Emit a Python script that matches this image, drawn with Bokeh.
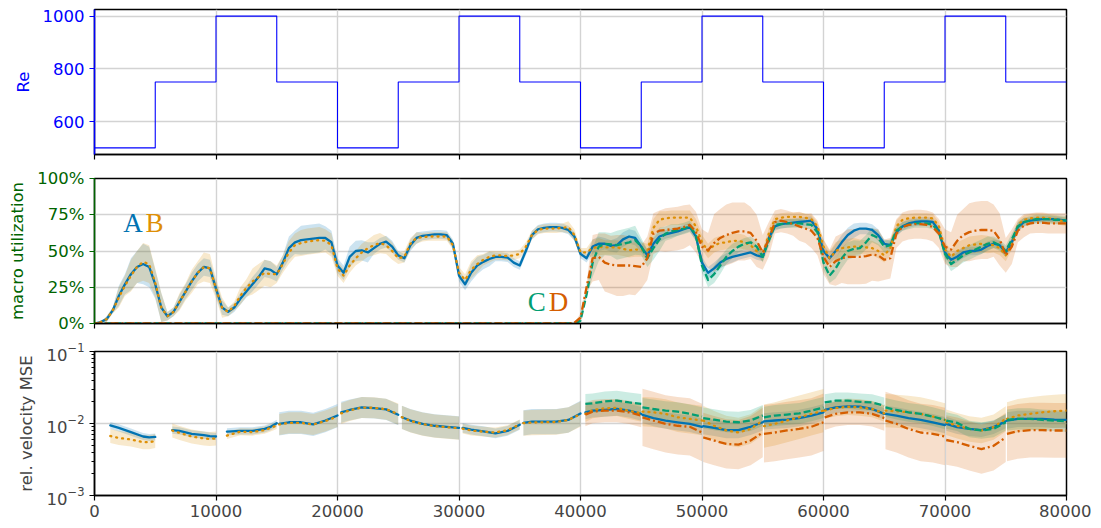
import numpy as np
from bokeh.plotting import figure
from bokeh.layouts import column
from bokeh.models import Range1d, FixedTicker, NumeralTickFormatter, CustomJSTickFormatter
from bokeh.core.properties import value
from bokeh.embed import file_html
from bokeh.resources import INLINE

# ---------------- data ----------------
X_TICKS = [0, 10000, 20000, 30000, 40000, 50000, 60000, 70000, 80000]

RE_EDGES = [0, 5000, 10000, 15000, 20000, 25000, 30000, 35000, 40000,
            45000, 50000, 55000, 60000, 65000, 70000, 75000, 80000]
RE_VALUES = [500, 750, 1000, 750, 500, 750, 1000, 750,
             500, 750, 1000, 750, 500, 750, 1000, 750]
RE_TICKS = [600, 800, 1000]

UTIL_X = list(range(0, 80001, 500))
UTIL_A = [
    0.00, 0.01, 0.03, 0.09, 0.19, 0.27, 0.34, 0.39, 0.41, 0.39,
    0.27, 0.11, 0.05, 0.08, 0.15, 0.22, 0.29, 0.35, 0.39, 0.38,
    0.24, 0.11, 0.08, 0.11, 0.17, 0.22, 0.27, 0.32, 0.38, 0.37,
    0.34, 0.42, 0.52, 0.56, 0.575, 0.58, 0.585, 0.59, 0.59, 0.56,
    0.40, 0.35, 0.46, 0.50, 0.505, 0.49, 0.52, 0.55, 0.565, 0.53,
    0.47, 0.45, 0.54, 0.59, 0.605, 0.61, 0.615, 0.615, 0.61, 0.55,
    0.33, 0.27, 0.35, 0.40, 0.425, 0.445, 0.46, 0.46, 0.455, 0.42,
    0.40, 0.50, 0.61, 0.65, 0.66, 0.665, 0.665, 0.66, 0.645, 0.60,
    0.48, 0.45, 0.53, 0.55, 0.55, 0.535, 0.54, 0.58, 0.60, 0.59,
    0.53, 0.47, 0.55, 0.60, 0.615, 0.625, 0.635, 0.65, 0.665, 0.60,
    0.42, 0.35, 0.38, 0.42, 0.445, 0.46, 0.47, 0.48, 0.49, 0.47,
    0.46, 0.59, 0.67, 0.685, 0.69, 0.695, 0.70, 0.705, 0.71, 0.65,
    0.50, 0.45, 0.50, 0.56, 0.61, 0.64, 0.655, 0.655, 0.645, 0.61,
    0.55, 0.54, 0.63, 0.67, 0.69, 0.70, 0.705, 0.705, 0.70, 0.64,
    0.49, 0.44, 0.46, 0.49, 0.50, 0.50, 0.51, 0.535, 0.55, 0.54,
    0.49, 0.56, 0.665, 0.70, 0.71, 0.715, 0.72, 0.72, 0.72, 0.715,
    0.71]
UTIL_B = [
    0.00, 0.01, 0.03, 0.09, 0.18, 0.26, 0.33, 0.39, 0.425, 0.41,
    0.28, 0.11, 0.05, 0.08, 0.15, 0.22, 0.29, 0.35, 0.39, 0.38,
    0.24, 0.11, 0.08, 0.12, 0.19, 0.245, 0.29, 0.32, 0.35, 0.34,
    0.34, 0.41, 0.49, 0.54, 0.555, 0.565, 0.57, 0.575, 0.57, 0.54,
    0.38, 0.33, 0.40, 0.45, 0.49, 0.52, 0.54, 0.555, 0.54, 0.50,
    0.45, 0.46, 0.55, 0.59, 0.595, 0.60, 0.60, 0.60, 0.60, 0.54,
    0.35, 0.30, 0.37, 0.41, 0.44, 0.46, 0.47, 0.47, 0.465, 0.47,
    0.48, 0.53, 0.61, 0.645, 0.655, 0.655, 0.655, 0.66, 0.665, 0.61,
    0.49, 0.49, 0.52, 0.53, 0.525, 0.525, 0.525, 0.515, 0.505, 0.51,
    0.51, 0.50, 0.66, 0.715, 0.725, 0.73, 0.73, 0.73, 0.73, 0.67,
    0.56, 0.50, 0.54, 0.555, 0.56, 0.57, 0.57, 0.56, 0.54, 0.50,
    0.47, 0.62, 0.72, 0.73, 0.735, 0.735, 0.735, 0.73, 0.72, 0.67,
    0.53, 0.45, 0.50, 0.52, 0.525, 0.53, 0.53, 0.525, 0.52, 0.50,
    0.47, 0.52, 0.67, 0.715, 0.725, 0.73, 0.73, 0.73, 0.725, 0.67,
    0.51, 0.46, 0.50, 0.52, 0.54, 0.545, 0.55, 0.545, 0.54, 0.52,
    0.47, 0.55, 0.68, 0.715, 0.725, 0.73, 0.73, 0.725, 0.72, 0.71,
    0.70]
# C and D stay at zero until step 40000
UTIL_C_EARLY = [0.0] * 80
UTIL_C_LATE = [
    0.02, 0.20, 0.42, 0.53, 0.55, 0.545, 0.54, 0.55, 0.56, 0.575,
    0.53, 0.45, 0.52, 0.58, 0.62, 0.635, 0.645, 0.655, 0.67, 0.61,
    0.40, 0.30, 0.34, 0.40, 0.46, 0.50, 0.53, 0.55, 0.56, 0.53,
    0.46, 0.57, 0.68, 0.685, 0.69, 0.69, 0.69, 0.685, 0.68, 0.63,
    0.42, 0.33, 0.38, 0.45, 0.50, 0.515, 0.52, 0.56, 0.61, 0.59,
    0.53, 0.54, 0.64, 0.67, 0.68, 0.69, 0.69, 0.69, 0.68, 0.63,
    0.48, 0.41, 0.44, 0.47, 0.49, 0.51, 0.53, 0.55, 0.56, 0.54,
    0.50, 0.58, 0.67, 0.70, 0.71, 0.72, 0.72, 0.72, 0.715, 0.715,
    0.71]
UTIL_D_EARLY = [0.0] * 79 + [0.005]
UTIL_D_LATE = [
    0.04, 0.25, 0.45, 0.46, 0.42, 0.405, 0.40, 0.40, 0.40, 0.395,
    0.39, 0.45, 0.62, 0.64, 0.645, 0.65, 0.655, 0.665, 0.68, 0.63,
    0.53, 0.505, 0.555, 0.59, 0.61, 0.625, 0.635, 0.635, 0.625, 0.57,
    0.49, 0.58, 0.70, 0.71, 0.70, 0.685, 0.67, 0.655, 0.64, 0.59,
    0.46, 0.39, 0.43, 0.45, 0.46, 0.46, 0.46, 0.465, 0.475, 0.47,
    0.44, 0.45, 0.62, 0.665, 0.68, 0.685, 0.685, 0.68, 0.665, 0.62,
    0.53, 0.51, 0.57, 0.61, 0.63, 0.64, 0.645, 0.645, 0.64, 0.58,
    0.47, 0.53, 0.64, 0.675, 0.69, 0.695, 0.695, 0.69, 0.69, 0.69,
    0.69]

# half widths of the shaded bands, one per 1000 steps
HW_A = [0.00,
        0.02, 0.07, 0.11, 0.14, 0.10, 0.03, 0.05, 0.06, 0.06, 0.05,
        0.03, 0.04, 0.05, 0.06, 0.05, 0.08, 0.10, 0.10, 0.08, 0.05,
        0.07, 0.07, 0.04, 0.04, 0.03, 0.04, 0.03, 0.03, 0.03, 0.04,
        0.06, 0.05, 0.03, 0.03, 0.03, 0.03, 0.03, 0.03, 0.03, 0.03,
        0.05, 0.04, 0.05, 0.05, 0.04, 0.04, 0.03, 0.03, 0.03, 0.04,
        0.04, 0.04, 0.03, 0.03, 0.03, 0.03, 0.03, 0.03, 0.03, 0.04,
        0.05, 0.05, 0.04, 0.04, 0.03, 0.03, 0.03, 0.03, 0.03, 0.04,
        0.04, 0.03, 0.03, 0.03, 0.03, 0.03, 0.02, 0.02, 0.02, 0.02]
HW_B = [0.00,
        0.02, 0.07, 0.11, 0.13, 0.10, 0.03, 0.06, 0.08, 0.10, 0.07,
        0.03, 0.06, 0.09, 0.09, 0.06, 0.08, 0.09, 0.09, 0.08, 0.05,
        0.05, 0.06, 0.07, 0.06, 0.04, 0.04, 0.03, 0.03, 0.03, 0.04,
        0.06, 0.04, 0.03, 0.03, 0.03, 0.03, 0.03, 0.03, 0.04, 0.03,
        0.06, 0.05, 0.05, 0.05, 0.05, 0.06, 0.05, 0.05, 0.05, 0.05,
        0.05, 0.05, 0.05, 0.04, 0.04, 0.03, 0.03, 0.03, 0.03, 0.05,
        0.06, 0.06, 0.05, 0.05, 0.05, 0.04, 0.03, 0.03, 0.03, 0.05,
        0.06, 0.06, 0.06, 0.05, 0.04, 0.03, 0.03, 0.03, 0.03, 0.03]
HW_C_LATE = [0.02,
             0.10, 0.08, 0.10, 0.10, 0.06, 0.08, 0.05, 0.04, 0.04, 0.05,
             0.06, 0.05, 0.04, 0.04, 0.04, 0.03, 0.03, 0.03, 0.03, 0.05,
             0.07, 0.06, 0.05, 0.05, 0.04, 0.03, 0.03, 0.03, 0.03, 0.05,
             0.05, 0.05, 0.05, 0.04, 0.04, 0.03, 0.03, 0.03, 0.03, 0.03]
HW_D_LATE = [0.03,
             0.16, 0.20, 0.21, 0.20, 0.15, 0.14, 0.15, 0.15, 0.14, 0.12,
             0.20, 0.21, 0.20, 0.18, 0.12, 0.08, 0.08, 0.10, 0.12, 0.12,
             0.17, 0.19, 0.19, 0.18, 0.14, 0.10, 0.10, 0.10, 0.10, 0.12,
             0.18, 0.20, 0.20, 0.18, 0.12, 0.08, 0.07, 0.07, 0.07, 0.07]

# relative velocity MSE, one row per Re phase
MSE_X = [
    [1300, 2000, 3000, 4000, 4500, 5000],
    [6400, 7000, 8000, 9000, 9500, 10000],
    [10900, 12000, 13000, 14000, 14500, 15000],
    [15200, 16000, 17000, 18000, 19000, 20000],
    [20300, 21000, 22000, 23000, 24000, 25000],
    [25300, 26000, 27000, 28000, 29000, 30000],
    [30300, 31000, 32000, 33000, 34000, 35000],
    [35300, 36000, 37000, 38000, 39000, 40000],
    [40400, 41000, 42000, 43000, 44000, 45000],
    [45100, 46000, 47000, 48000, 49000, 50000],
    [50100, 51000, 52000, 53000, 54000, 55000],
    [55100, 56000, 57000, 58000, 59000, 60000],
    [60100, 61000, 62000, 63000, 64000, 65000],
    [65100, 66000, 67000, 68000, 69000, 70000],
    [70100, 71000, 72000, 73000, 74000, 75000],
    [75100, 76000, 77000, 78000, 79000, 80000],
]
MSE_A = [
    [0.0094, 0.0087, 0.0076, 0.0066, 0.0064, 0.0065],
    [0.0081, 0.0079, 0.0072, 0.0069, 0.0067, 0.0066],
    [0.0077, 0.0079, 0.0079, 0.0084, 0.0090, 0.0101],
    [0.0099, 0.0104, 0.0104, 0.0097, 0.0110, 0.0129],
    [0.0143, 0.0154, 0.0167, 0.0164, 0.0157, 0.0132],
    [0.0122, 0.0110, 0.0099, 0.0093, 0.0090, 0.0087],
    [0.0087, 0.0082, 0.0078, 0.0073, 0.0079, 0.0096],
    [0.0102, 0.0106, 0.0106, 0.0106, 0.0112, 0.0138],
    [0.0143, 0.0151, 0.0155, 0.0160, 0.0151, 0.0136],
    [0.0132, 0.0119, 0.0110, 0.0104, 0.0099, 0.0090],
    [0.0092, 0.0087, 0.0081, 0.0081, 0.0090, 0.0104],
    [0.0107, 0.0110, 0.0113, 0.0119, 0.0129, 0.0143],
    [0.0155, 0.0167, 0.0173, 0.0171, 0.0159, 0.0136],
    [0.0136, 0.0129, 0.0119, 0.0112, 0.0104, 0.0095],
    [0.0099, 0.0089, 0.0084, 0.0081, 0.0089, 0.0107],
    [0.0110, 0.0116, 0.0116, 0.0116, 0.0113, 0.0112],
]
MSE_B = [
    [0.0067, 0.0063, 0.0060, 0.0055, 0.0055, 0.0057],
    [0.0080, 0.0074, 0.0066, 0.0062, 0.0061, 0.0062],
    [0.0068, 0.0077, 0.0076, 0.0081, 0.0087, 0.0094],
    [0.0097, 0.0102, 0.0102, 0.0097, 0.0108, 0.0125],
    [0.0138, 0.0152, 0.0167, 0.0165, 0.0158, 0.0135],
    [0.0122, 0.0109, 0.0098, 0.0092, 0.0089, 0.0086],
    [0.0085, 0.0080, 0.0077, 0.0075, 0.0081, 0.0097],
    [0.0101, 0.0103, 0.0104, 0.0105, 0.0112, 0.0135],
    [0.0136, 0.0154, 0.0163, 0.0165, 0.0150, 0.0138],
    [0.0146, 0.0143, 0.0136, 0.0122, 0.0116, 0.0110],
    [0.0110, 0.0093, 0.0080, 0.0075, 0.0084, 0.0110],
    [0.0092, 0.0099, 0.0110, 0.0122, 0.0136, 0.0151],
    [0.0151, 0.0164, 0.0171, 0.0167, 0.0159, 0.0138],
    [0.0151, 0.0148, 0.0143, 0.0136, 0.0125, 0.0112],
    [0.0104, 0.0093, 0.0084, 0.0080, 0.0089, 0.0116],
    [0.0116, 0.0129, 0.0136, 0.0143, 0.0148, 0.0151],
]
MSE_C = [
    None, None, None, None, None, None, None, None,
    [0.0187, 0.0191, 0.0203, 0.0208, 0.0196, 0.0187],
    [0.0168, 0.0159, 0.0151, 0.0146, 0.0136, 0.0125],
    [0.0119, 0.0113, 0.0106, 0.0104, 0.0110, 0.0129],
    [0.0122, 0.0129, 0.0133, 0.0138, 0.0151, 0.0167],
    [0.0196, 0.0208, 0.0208, 0.0200, 0.0196, 0.0177],
    [0.0167, 0.0154, 0.0143, 0.0136, 0.0125, 0.0112],
    [0.0110, 0.0102, 0.0084, 0.0080, 0.0084, 0.0104],
    [0.0112, 0.0116, 0.0116, 0.0112, 0.0110, 0.0107],
]
MSE_D = [
    None, None, None, None, None, None, None, None,
    [0.0133, 0.0146, 0.0151, 0.0151, 0.0143, 0.0129],
    [0.0122, 0.0110, 0.0099, 0.0093, 0.0090, 0.0075],
    [0.0064, 0.0058, 0.0052, 0.0051, 0.0058, 0.0075],
    [0.0072, 0.0075, 0.0080, 0.0084, 0.0090, 0.0104],
    [0.0122, 0.0136, 0.0143, 0.0143, 0.0136, 0.0119],
    [0.0110, 0.0099, 0.0084, 0.0075, 0.0072, 0.0066],
    [0.0059, 0.0055, 0.0049, 0.0044, 0.0049, 0.0064],
    [0.0072, 0.0078, 0.0081, 0.0081, 0.0080, 0.0080],
]
# multiplicative spread of the shaded bands per phase
SPREAD_A = [1.12, 1.12, 1.12, 1.45, 1.4, 1.45, 1.17, 1.5,
            1.25, 1.3, 1.3, 1.3, 1.2, 1.3, 1.25, 1.3]
SPREAD_B = [1.25, 1.25, 1.12, 1.4, 1.4, 1.45, 1.17, 1.5,
            1.3, 1.6, 1.6, 2.0, 1.3, 1.7, 1.5, 1.7]
SPREAD_C = [None, None, None, None, None, None, None, None,
            1.37, 1.35, 1.4, 1.4, 1.3, 1.35, 1.3, 1.4]
SPREAD_D = [None, None, None, None, None, None, None, None,
            1.45, 2.5, 2.2, 2.5, 1.5, 2.5, 2.2, 2.4]

MSE_TICKS = [1e-3, 1e-2, 1e-1]
MSE_MINOR = [2e-3, 3e-3, 4e-3, 5e-3, 6e-3, 7e-3, 8e-3, 9e-3,
             2e-2, 3e-2, 4e-2, 5e-2, 6e-2, 7e-2, 8e-2, 9e-2]

LABEL_AB = {"text": ["A", "B"], "x": [2360, 4200], "y": [0.69, 0.69]}
LABEL_CD = {"text": ["C", "D"], "x": [35660, 37390], "y": [0.145, 0.145]}

# ---------------- style ----------------
COL = {"A": "#0173B2", "B": "#DE8F05", "C": "#029E73", "D": "#D55E00"}
DASH = {"A": "solid", "B": "1 5", "C": "7 3", "D": "8 3 2 3"}
CAP = {"A": "round", "B": "round", "C": "butt", "D": "butt"}
FONT = "DejaVu Sans"
FS = "16.5px"
FW = 972


def make_fig(y_range, top, bottom, y_axis_type="linear", fh=145):
    p = figure(frame_width=FW, frame_height=fh, x_range=Range1d(0, 80000),
               y_range=y_range, y_axis_type=y_axis_type,
               output_backend="svg", toolbar_location=None,
               min_border_left=94, min_border_right=25,
               min_border_top=top, min_border_bottom=bottom)
    p.background_fill_color = "white"
    p.border_fill_color = "white"
    p.outline_line_color = "black"
    p.outline_line_width = 1.5
    p.xaxis.ticker = FixedTicker(ticks=X_TICKS)
    for ax in p.axis:
        ax.major_tick_in = 0
        ax.major_tick_out = 5
        ax.major_tick_line_width = 1.2
        ax.minor_tick_line_color = None
        ax.axis_line_width = 1.5
        ax.major_label_text_font = FONT
        ax.major_label_text_font_size = FS
        ax.axis_label_text_font = FONT
        ax.axis_label_text_font_size = FS
        ax.axis_label_text_font_style = "normal"
        ax.major_label_standoff = 5
        ax.axis_label_standoff = 7
    p.grid.grid_line_color = "#d3d3d3"
    p.grid.grid_line_width = 1.4
    return p


def color_y(p, c, label):
    ax = p.yaxis[0]
    ax.axis_label = label
    ax.axis_line_color = c
    ax.major_tick_line_color = c
    ax.major_label_text_color = c
    ax.axis_label_text_color = c


def hide_x_labels(p):
    p.xaxis.formatter = CustomJSTickFormatter(code="return ''")
    p.xaxis.major_label_text_font_size = "0px"


# ---- panel 1: Re ----
p1 = make_fig(Range1d(475, 1025), 9, 12)
p1.yaxis.ticker = FixedTicker(ticks=RE_TICKS)
color_y(p1, "#0000ff", "Re")
hide_x_labels(p1)
p1.step(x=RE_EDGES, y=RE_VALUES + [RE_VALUES[-1]], mode="after",
        line_color="#0000ff", line_width=1.1)

# ---- panel 2: utilization ----
p2 = make_fig(Range1d(0, 1), 12, 12)
p2.yaxis.ticker = FixedTicker(ticks=[0, 0.25, 0.5, 0.75, 1.0])
p2.yaxis.formatter = NumeralTickFormatter(format="0%")
color_y(p2, "#006400", "macro utilization")
hide_x_labels(p2)

util = {
    "A": (UTIL_A, HW_A),
    "B": (UTIL_B, HW_B),
    "C": (UTIL_C_EARLY + UTIL_C_LATE, [0.0] * 40 + HW_C_LATE),
    "D": (UTIL_D_EARLY + UTIL_D_LATE, [0.0] * 40 + HW_D_LATE),
}
xs = np.array(UTIL_X, dtype=float)
for k, (vals, hw) in util.items():
    v = np.array(vals, dtype=float)
    h = np.repeat(np.array(hw, dtype=float), 2)[:len(v)]
    p2.varea(x=xs, y1=np.clip(v - h, 0, 1), y2=np.clip(v + h, 0, 1),
             fill_color=COL[k], fill_alpha=0.2)
for k, (vals, hw) in util.items():
    p2.line(x=xs, y=np.array(vals, dtype=float), line_color=COL[k], line_width=2.3,
            line_dash=DASH[k], line_cap=CAP[k], line_join="round")

for lab in (LABEL_AB, LABEL_CD):
    cols = [COL["A"], COL["B"]] if lab is LABEL_AB else [COL["C"], COL["D"]]
    p2.text(x=lab["x"], y=lab["y"], text=lab["text"], text_color=cols,
            text_font=value("Liberation Serif"), text_font_size="27px",
            text_align="left", text_baseline="alphabetic")

# ---- panel 3: MSE ----
p3 = make_fig(Range1d(1e-3, 1e-1), 16, 24, y_axis_type="log", fh=144)
p3.yaxis.ticker = FixedTicker(ticks=MSE_TICKS, minor_ticks=MSE_MINOR)
p3.yaxis.minor_tick_line_color = "black"
p3.yaxis.minor_tick_in = 0
p3.yaxis.minor_tick_out = 3
p3.yaxis.minor_tick_line_width = 1
p3.yaxis.axis_label = "rel. velocity MSE"
p3.xaxis.major_label_standoff = 4

mse = {"A": (MSE_A, SPREAD_A), "B": (MSE_B, SPREAD_B),
       "C": (MSE_C, SPREAD_C), "D": (MSE_D, SPREAD_D)}
for k, (rows, spread) in mse.items():
    for i, bx in enumerate(MSE_X):
        if rows[i] is None:
            continue
        r = np.array(rows[i])
        p3.varea(x=bx, y1=r / spread[i], y2=r * spread[i],
                 fill_color=COL[k], fill_alpha=0.2)
for k, (rows, spread) in mse.items():
    for i, bx in enumerate(MSE_X):
        if rows[i] is None:
            continue
        p3.line(x=bx, y=rows[i], line_color=COL[k], line_width=2.3,
                line_dash=DASH[k], line_cap=CAP[k], line_join="round")

layout = column(p1, p2, p3, spacing=0)
open("out.html", "w").write(file_html(layout, INLINE))
